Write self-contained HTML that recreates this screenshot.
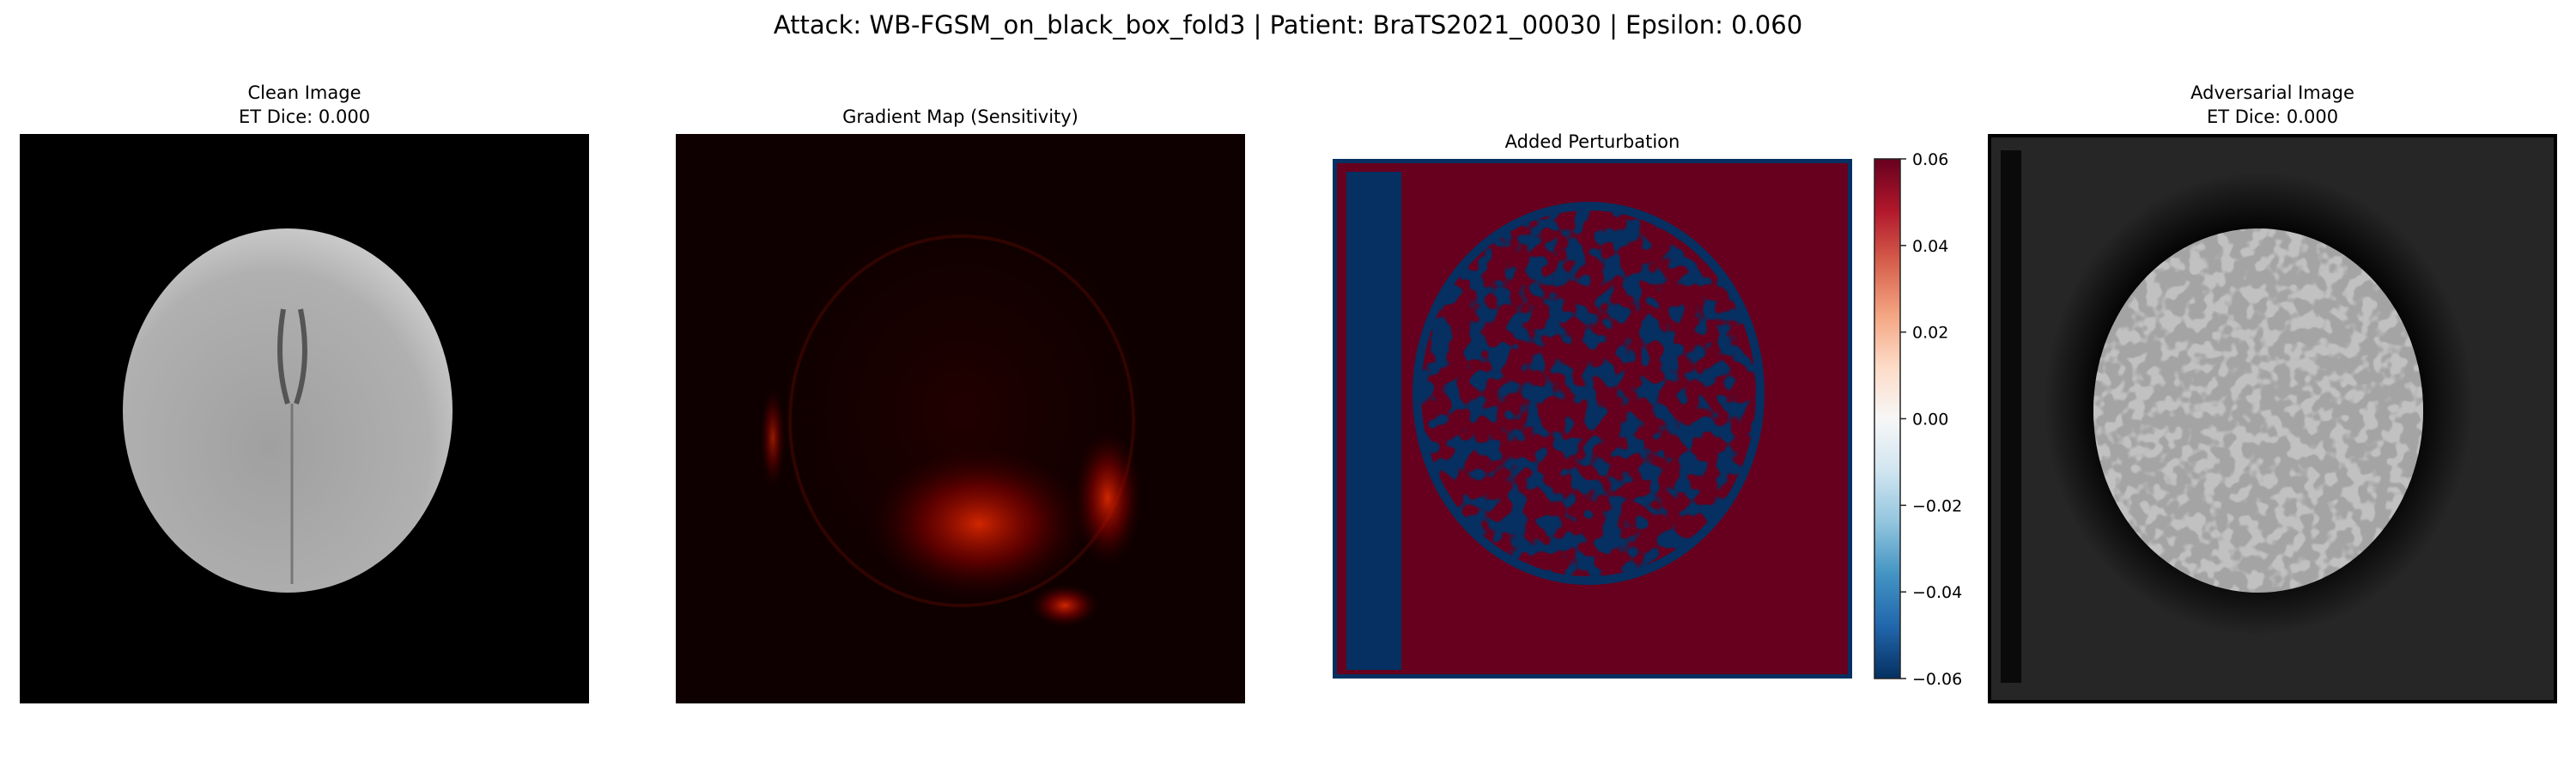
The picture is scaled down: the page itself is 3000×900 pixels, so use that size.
<!DOCTYPE html>
<html><head><meta charset="utf-8"><style>
html,body{margin:0;padding:0;background:#fff;}
body{width:3000px;height:900px;position:relative;overflow:hidden;font-family:"DejaVu Sans","Liberation Sans",sans-serif;}
.t{position:absolute;color:#000;white-space:nowrap;text-align:center;}
</style></head><body>
<div class="t" style="left:0;width:3000px;top:12px;font-size:29px;">Attack: WB-FGSM_on_black_box_fold3 | Patient: BraTS2021_00030 | Epsilon: 0.060</div>
<div class="t" style="left:23px;width:663px;top:94px;font-size:21px;line-height:28px;">Clean Image<br>ET Dice: 0.000</div>
<div class="t" style="left:787px;width:663px;top:122px;font-size:21px;line-height:28px;">Gradient Map (Sensitivity)</div>
<div class="t" style="left:1552px;width:605px;top:151px;font-size:21px;line-height:28px;">Added Perturbation</div>
<div class="t" style="left:2315px;width:663px;top:94px;font-size:21px;line-height:28px;">Adversarial Image<br>ET Dice: 0.000</div>
<svg width="3000" height="900" style="position:absolute;left:0;top:0" xmlns="http://www.w3.org/2000/svg">
<defs>
<radialGradient id="brainG" cx="0.45" cy="0.6" r="0.6"><stop offset="0" stop-color="#a0a0a0"/><stop offset="0.8" stop-color="#b0b0b0"/><stop offset="1" stop-color="#c8c8c8"/></radialGradient>
<radialGradient id="hot" cx="0.5" cy="0.5" r="0.5"><stop offset="0" stop-color="#ff3000" stop-opacity="0.8"/><stop offset="0.5" stop-color="#a00000" stop-opacity="0.5"/><stop offset="1" stop-color="#300000" stop-opacity="0"/></radialGradient>
<radialGradient id="dim" cx="0.5" cy="0.5" r="0.5"><stop offset="0" stop-color="#2a0000" stop-opacity="0.7"/><stop offset="1" stop-color="#200000" stop-opacity="0"/></radialGradient>
<radialGradient id="halo" cx="0.5" cy="0.5" r="0.5"><stop offset="0.75" stop-color="#000" stop-opacity="0.9"/><stop offset="1" stop-color="#000" stop-opacity="0"/></radialGradient>
<linearGradient id="cbar" x1="0" y1="0" x2="0" y2="1">
<stop offset="0" stop-color="#67001f"/><stop offset="0.1" stop-color="#b2182b"/><stop offset="0.2" stop-color="#d6604d"/><stop offset="0.3" stop-color="#f4a582"/><stop offset="0.4" stop-color="#fddbc7"/><stop offset="0.5" stop-color="#f7f7f7"/><stop offset="0.6" stop-color="#d1e5f0"/><stop offset="0.7" stop-color="#92c5de"/><stop offset="0.8" stop-color="#4393c3"/><stop offset="0.9" stop-color="#2166ac"/><stop offset="1" stop-color="#053061"/></linearGradient>
<filter id="blot" x="0" y="0" width="100%" height="100%" color-interpolation-filters="sRGB">
<feTurbulence type="fractalNoise" baseFrequency="0.045" numOctaves="2" seed="3" result="n"/>
<feColorMatrix in="n" type="matrix" values="0 0 0 0 0.404  0 0 0 0 0  0 0 0 0 0.122  0 0 0 -12 6.9" result="r"/>
<feComposite in="r" in2="SourceGraphic" operator="in"/>
</filter>
<filter id="speck" x="0" y="0" width="100%" height="100%" color-interpolation-filters="sRGB">
<feTurbulence type="fractalNoise" baseFrequency="0.06" numOctaves="2" seed="7" result="n"/>
<feColorMatrix in="n" type="matrix" values="0 0 0 0 0.78  0 0 0 0 0.78  0 0 0 0 0.78  0 0 0 -8 4.2" result="r"/>
<feComposite in="r" in2="SourceGraphic" operator="in"/>
</filter>
<clipPath id="c3"><rect x="1552" y="185" width="605" height="605"/></clipPath>
<clipPath id="c4"><rect x="2315" y="156" width="663" height="663"/></clipPath>
</defs>

<g>
<rect x="23" y="156" width="663" height="663" fill="#000"/>
<ellipse cx="335" cy="478" rx="192" ry="212" fill="url(#brainG)"/>
<path d="M330 360 Q320 420 335 470 M350 360 Q362 420 345 470" stroke="#555" stroke-width="6" fill="none"/>
<line x1="340" y1="470" x2="340" y2="680" stroke="#777" stroke-width="3"/>
</g>

<g>
<rect x="787" y="156" width="663" height="663" fill="#0e0000"/>
<ellipse cx="1120" cy="480" rx="230" ry="250" fill="url(#dim)"/>
<ellipse cx="1120" cy="490" rx="200" ry="215" fill="none" stroke="#300400" stroke-width="4"/>
<ellipse cx="1140" cy="610" rx="130" ry="90" fill="url(#hot)"/>
<ellipse cx="1290" cy="580" rx="40" ry="80" fill="url(#hot)"/>
<ellipse cx="1240" cy="705" rx="40" ry="25" fill="url(#hot)"/>
<ellipse cx="900" cy="510" rx="15" ry="60" fill="url(#hot)" opacity="0.7"/>
</g>

<g clip-path="url(#c3)">
<rect x="1552" y="185" width="605" height="605" fill="#67001f"/>
<rect x="1552" y="185" width="605" height="605" fill="none" stroke="#053061" stroke-width="10"/>
<rect x="1568" y="200" width="64" height="580" fill="#053061"/>
<ellipse cx="1850" cy="458" rx="200" ry="218" fill="#053061"/>
<ellipse cx="1850" cy="458" rx="200" ry="218" fill="#fff" filter="url(#blot)"/>
<ellipse cx="1850" cy="458" rx="200" ry="218" fill="none" stroke="#053061" stroke-width="10"/>
</g>
<g>
<rect x="2183" y="185" width="30" height="605" fill="url(#cbar)" stroke="#222" stroke-width="1.5"/>
<g id="ticks" font-size="19" fill="#000" font-family="DejaVu Sans, Liberation Sans, sans-serif"></g>
</g>

<g clip-path="url(#c4)">
<rect x="2315" y="156" width="663" height="663" fill="#262626"/>
<rect x="2315" y="156" width="663" height="663" fill="none" stroke="#000" stroke-width="8"/>
<rect x="2330" y="175" width="24" height="620" fill="#0a0a0a"/>
<ellipse cx="2630" cy="470" rx="250" ry="270" fill="url(#halo)"/>
<ellipse cx="2630" cy="478" rx="192" ry="212" fill="#a4a4a4"/>
<ellipse cx="2630" cy="478" rx="192" ry="212" fill="#fff" filter="url(#speck)" opacity="0.85"/>
</g>
</svg>
<script>
const tickValues = [0.06, 0.04, 0.02, 0.00, -0.02, -0.04, -0.06];
const tickLabels = ["0.06","0.04","0.02","0.00","\u22120.02","\u22120.04","\u22120.06"];
const cbMin = -0.06, cbMax = 0.06, cbTop = 185, cbBot = 790;
function yScale(v){ return cbTop + (cbMax - v) / (cbMax - cbMin) * (cbBot - cbTop); }
const tg = document.getElementById('ticks');
const SVGNS = 'http://www.w3.org/2000/svg';
tickValues.forEach((v,i)=>{
  const y = yScale(v);
  const l = document.createElementNS(SVGNS,'line');
  l.setAttribute('x1',2213); l.setAttribute('x2',2220); l.setAttribute('y1',y); l.setAttribute('y2',y);
  l.setAttribute('stroke','#222'); l.setAttribute('stroke-width','1.5');
  
  
  tg.appendChild(l);
  const t = document.createElementNS(SVGNS,'text');
  t.setAttribute('x',2227); t.setAttribute('y',y+7);
  t.textContent = tickLabels[i];
  
  
  tg.appendChild(t);
});
</script>
</body></html>
